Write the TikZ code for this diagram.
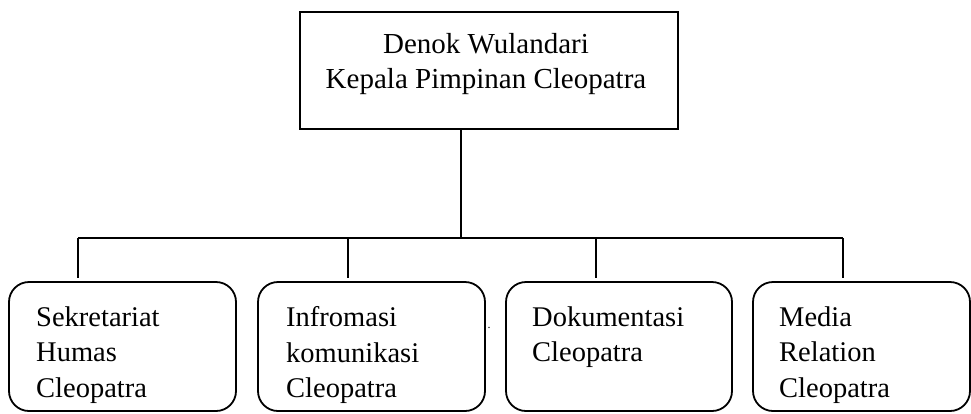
\documentclass[tikz,border=0pt]{standalone}
\usepackage{fontspec}
\setmainfont{Liberation Serif}
\begin{document}
\begin{tikzpicture}[x=1pt,y=-1pt,
  ln/.style={line width=1.8pt, black},
  topbox/.style={draw, line width=1.8pt, minimum width=378pt, minimum height=117pt, inner sep=0pt},
  unitbox/.style={draw, line width=1.8pt, rounded corners=20pt, minimum width=227pt, minimum height=129pt, inner sep=0pt},
  lbl/.style={inner sep=0pt, anchor=north west, align=left, font=\fontsize{28.5}{35.5}\selectfont},
  toplbl/.style={inner sep=0pt, anchor=north, align=center, font=\fontsize{29}{35}\selectfont}]
\useasboundingbox (0,0) rectangle (971,413);
% top box
\node[topbox] (top) at (489,70.5) {};
\node[toplbl] (toptxt) at (486,33.5) {Denok Wulandari\\Kepala Pimpinan Cleopatra};
% unit boxes
\node[unitbox] (b1) at (122.5,346.5) {};
\node[unitbox] (b2) at (371.5,346.5) {};
\node[unitbox, minimum width=226pt] (b3) at (619,346.5) {};
\node[unitbox, minimum width=217pt] (b4) at (861.5,346.5) {};
\node[lbl] (t1) at (36,306.5) {Sekretariat\\Humas\\Cleopatra};
\node[lbl] (t2) at (286,306.5) {Infromasi\\komunikasi\\Cleopatra};
\node[lbl] (t3) at (532,306.5) {Dokumentasi\\Cleopatra};
\node[lbl] (t4) at (779,306.5) {Media\\Relation\\Cleopatra};
\node[inner sep=0pt, font=\fontsize{12}{12}\selectfont] (dot) at (489,328) {.};
% connectors
\coordinate (stem) at (461,238);
\coordinate (d1) at (78,238);
\coordinate (d2) at (348,238);
\coordinate (d3) at (596,238);
\coordinate (d4) at (843,238);
\coordinate (e1) at (78,278);
\coordinate (e2) at (348,278);
\coordinate (e3) at (596,278);
\coordinate (e4) at (843,278);
\draw[ln] (top.south -| stem) -- (stem);
\draw[ln] (d1) -- (d4);
\draw[ln] (d1) -- (e1);
\draw[ln] (d2) -- (e2);
\draw[ln] (d3) -- (e3);
\draw[ln] (d4) -- (e4);
\end{tikzpicture}
\end{document}
